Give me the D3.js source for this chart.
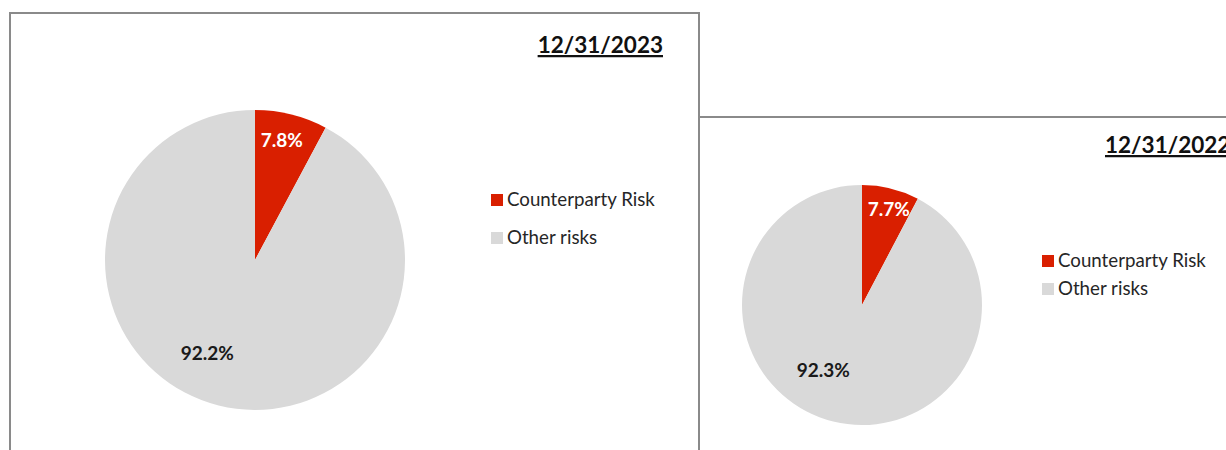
<!DOCTYPE html>
<html>
<head>
<meta charset="utf-8">
<script src="https://cdn.jsdelivr.net/npm/d3@7"></script>
<style>
  html, body { margin: 0; padding: 0; background: #fff; }
  svg { display: block; }
  text { font-family: Lato, "Open Sans", sans-serif; }
</style>
</head>
<body>
<svg id="chart" width="1226" height="450"></svg>
<script>
// Risk breakdown by reporting date
const categories = ["Counterparty Risk", "Other risks"];
const dates = ["12/31/2023", "12/31/2022"];
const shares2023 = [7.8, 92.2];
const shares2022 = [7.7, 92.3];
const colors = ["#d91f00", "#d9d9d9"];
const labelColors = ["#ffffff", "#1a1a1a"];

// Panel layout (page coordinates); labels: per-slice radius fraction and angular shift (deg)
const panels = [
  { date: dates[0], values: shares2023, x: 10, y: 13, w: 689, h: 470,
    cx: 255, cy: 260, r: 150, titleX: 663, titleY: 53,
    legendX: 491, legendY: 206, legendStep: 38,
    labels: [{ k: 0.82, shift: -1.5 }, { k: 0.70, shift: 13 }] },
  { date: dates[1], values: shares2022, x: 699, y: 117, w: 600, h: 400,
    cx: 862, cy: 305, r: 120, titleX: 1105, titleY: 153, titleAnchor: "start",
    legendX: 1042, legendY: 267, legendStep: 28,
    labels: [{ k: 0.83, shift: 1.8 }, { k: 0.63, shift: 17 }] }
];

const svg = d3.select("#chart");

const pie = d3.pie().sort(null).value(d => d);

panels.forEach(p => {
  const g = svg.append("g");

  const arcs = pie(p.values);
  const arc = d3.arc().innerRadius(0).outerRadius(p.r);

  g.append("g")
    .attr("transform", `translate(${p.cx},${p.cy})`)
    .selectAll("path")
    .data(arcs)
    .join("path")
    .attr("d", arc)
    .attr("fill", (d, i) => colors[i]);

  const labels = g.append("g").attr("transform", `translate(${p.cx},${p.cy})`);
  arcs.forEach((d, i) => {
    const pl = p.labels[i];
    const mid = (d.startAngle + d.endAngle) / 2 + pl.shift * Math.PI / 180;
    const rr = p.r * pl.k;
    labels.append("text")
      .attr("x", Math.sin(mid) * rr)
      .attr("y", -Math.cos(mid) * rr)
      .attr("dy", "0.36em")
      .attr("text-anchor", "middle")
      .attr("font-weight", 700)
      .attr("font-size", 19)
      .attr("fill", labelColors[i])
      .text(d3.format(".1f")(d.data) + "%");
  });

  // title
  g.append("text")
    .attr("x", p.titleX)
    .attr("y", p.titleY)
    .attr("text-anchor", p.titleAnchor || "end")
    .attr("font-weight", 700)
    .attr("font-size", 22.5)
    .attr("fill", "#111")
    .style("text-decoration", "underline")
    .text(p.date);

  // legend
  const lg = g.append("g");
  categories.forEach((c, i) => {
    const y = p.legendY + i * p.legendStep;
    lg.append("rect")
      .attr("x", p.legendX)
      .attr("y", y - 12)
      .attr("width", 12)
      .attr("height", 12)
      .attr("fill", colors[i]);
    lg.append("text")
      .attr("x", p.legendX + 16)
      .attr("y", y)
      .attr("font-size", 18.7)
      .attr("fill", "#262626")
      .text(c);
  });
});

// panel frames
panels.forEach(p => {
  svg.append("rect")
    .attr("x", p.x)
    .attr("y", p.y)
    .attr("width", p.w)
    .attr("height", p.h)
    .attr("fill", "none")
    .attr("stroke", "#8a8a8a")
    .attr("stroke-width", 2);
});
</script>
</body>
</html>
